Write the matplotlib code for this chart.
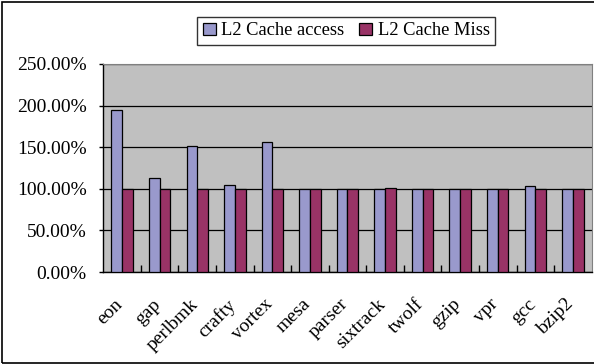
import matplotlib
matplotlib.use("Agg")
import matplotlib.pyplot as plt
import numpy as np
from matplotlib.ticker import FuncFormatter, MultipleLocator
from matplotlib.patches import Rectangle
from matplotlib.transforms import ScaledTranslation

categories = ["eon", "gap", "perlbmk", "crafty", "vortex", "mesa", "parser",
              "sixtrack", "twolf", "gzip", "vpr", "gcc", "bzip2"]
access = [195.0, 113.5, 151.0, 104.5, 156.5, 100.0, 100.0, 100.0, 100.0, 100.0, 100.0, 103.5, 100.0]
miss = [100.0, 100.0, 100.0, 100.0, 100.0, 100.0, 100.0, 101.5, 100.0, 100.0, 100.0, 100.0, 100.0]
series_names = ["L2 Cache access", "L2 Cache Miss"]

plt.rcParams['font.family'] = ['Liberation Serif', 'DejaVu Serif']

fig = plt.figure(figsize=(5.94, 3.64), dpi=100)
ax = fig.add_axes([0.174, 0.2527, 0.822, 0.5715])
ax.set_facecolor("#C0C0C0")

x = np.arange(len(categories))
w = 0.285
ax.bar(x - w / 2, access, w, color="#9999CC", edgecolor="black", linewidth=0.9,
       label=series_names[0], zorder=3)
ax.bar(x + w / 2, miss, w, color="#993366", edgecolor="black", linewidth=0.9,
       label=series_names[1], zorder=3)

ax.set_xlim(-0.5, len(categories) - 0.5)
ax.set_ylim(0, 250)
ax.yaxis.set_major_locator(MultipleLocator(50))
ax.yaxis.set_major_formatter(FuncFormatter(lambda v, p: f"{v:.2f}%"))
ax.grid(axis="y", color="black", linewidth=0.9, zorder=1)
ax.set_axisbelow(True)

ax.set_xticks(x)
ax.set_xticklabels(categories, rotation=45, ha="right", rotation_mode="anchor", fontsize=14)
ax.tick_params(axis="x", length=0, pad=17)
shift = ScaledTranslation(-8 / 100, 0, fig.dpi_scale_trans)
for lbl in ax.get_xticklabels():
    lbl.set_transform(lbl.get_transform() + shift)
ax.set_xticks(np.arange(0.5, len(categories) - 0.5, 1), minor=True)
ax.tick_params(axis="x", which="minor", direction="in", length=5, width=1, color="black")
ax.tick_params(axis="y", labelsize=14, length=3, width=1, direction="out", pad=9)

for s in ["top", "right"]:
    ax.spines[s].set_color("#808080")
    ax.spines[s].set_linewidth(0.8)
ax.spines["left"].set_linewidth(1.0)
ax.spines["bottom"].set_linewidth(1.0)

leg = fig.legend(loc="center", bbox_to_anchor=(0.583, 0.915), ncol=2, fontsize=13.3,
                 frameon=True, fancybox=False, edgecolor="black", handlelength=0.7,
                 handleheight=0.7, handletextpad=0.3, columnspacing=0.8,
                 borderpad=0.3)
leg.get_frame().set_linewidth(1.0)

fig.patches.append(Rectangle((0.004, 0.004), 1.2, 0.99, transform=fig.transFigure,
                             fill=False, edgecolor="black", linewidth=1.2))

fig.savefig("out.png", dpi=100)
